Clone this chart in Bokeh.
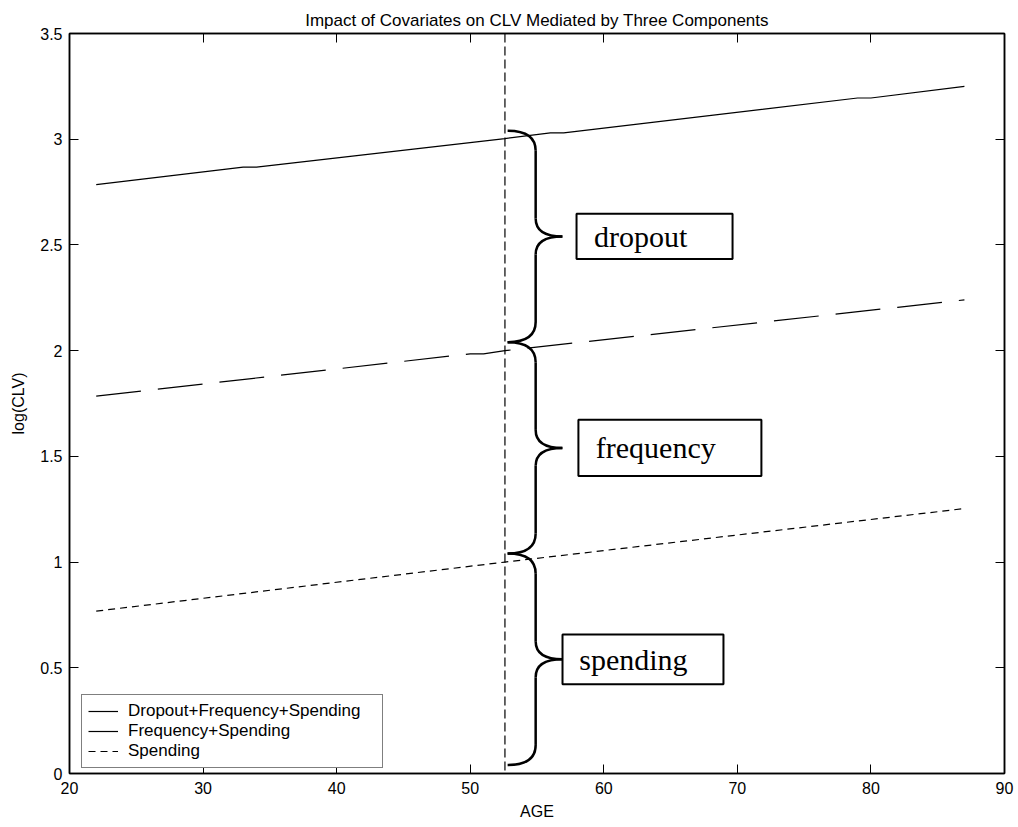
from bokeh.plotting import figure
from bokeh.models import (LinearAxis, FixedTicker, CustomJSTickFormatter, Span,
                          Legend, LegendItem, Range1d, ColumnDataSource)
from bokeh.core.properties import value
from bokeh.embed import file_html
from bokeh.resources import INLINE

# log(CLV) by age for each decomposition
age_all = [22, 33, 34, 52.6, 56, 57, 79, 80, 87]
clv_all = [2.785, 2.868, 2.868, 3.003, 3.03, 3.03, 3.195, 3.195, 3.25]
age_freq = [22, 50, 51, 52.6, 82, 87]
clv_freq = [1.785, 1.985, 1.985, 2.0, 2.205, 2.24]
age_spend = [22, 52.6, 87]
clv_spend = [0.768, 1.0, 1.253]
series_names = ["Dropout+Frequency+Spending", "Frequency+Spending", "Spending"]

# average age and the component contributions at that age
mean_age = 52.6
component_names = ["dropout", "frequency", "spending"]
component_top = [3.0, 2.0, 1.0]
component_bottom = [2.0, 1.0, 0.0]

x_ticks = [20, 30, 40, 50, 60, 70, 80, 90]
y_ticks = [0, 0.5, 1, 1.5, 2, 2.5, 3, 3.5]

AX_FONT = "Liberation Sans"

p = figure(width=1018, height=827, x_range=Range1d(20, 90), y_range=Range1d(0, 3.5),
           output_backend="svg", toolbar_location=None,
           min_border_left=69, min_border_right=14, min_border_top=33, min_border_bottom=54,
           title="Impact of Covariates on CLV Mediated by Three Components")
p.title.text_font = AX_FONT
p.title.text_font_size = "17px"
p.title.text_font_style = "normal"
p.title.text_color = "black"
p.title.align = "center"
p.title.standoff = 8
p.xgrid.visible = False
p.ygrid.visible = False
p.outline_line_color = "black"
p.outline_line_width = 1.5
p.background_fill_color = "white"
p.border_fill_color = "white"


def style_axis(ax, ticks, labels=True):
    ax.ticker = FixedTicker(ticks=ticks)
    ax.major_tick_in = 9
    ax.major_tick_out = 0
    ax.minor_tick_line_color = None
    ax.axis_line_color = "black"
    ax.axis_line_width = 1.5
    ax.major_tick_line_color = "black"
    ax.major_tick_line_width = 1
    ax.major_label_text_font = AX_FONT
    ax.major_label_text_font_size = "16px"
    ax.major_label_text_color = "black"
    ax.axis_label_text_font = AX_FONT
    ax.axis_label_text_font_size = "16px"
    ax.axis_label_text_font_style = "normal"
    ax.axis_label_text_color = "black"
    if labels:
        ax.formatter = CustomJSTickFormatter(code="return tick.toString();")
    else:
        ax.formatter = CustomJSTickFormatter(code="return '';")
        ax.major_label_standoff = 0


xa = p.xaxis[0]
ya = p.yaxis[0]
style_axis(xa, x_ticks)
style_axis(ya, y_ticks)
xa.axis_label = "AGE"
ya.axis_label = "log(CLV)"
xa.major_label_standoff = 8
xa.axis_label_standoff = 6
ya.major_label_standoff = 7
ya.axis_label_standoff = 10

top_axis = LinearAxis()
style_axis(top_axis, x_ticks, labels=False)
p.add_layout(top_axis, "above")
right_axis = LinearAxis()
style_axis(right_axis, y_ticks, labels=False)
p.add_layout(right_axis, "right")

# curves
r_all = p.line(age_all, clv_all, line_color="black", line_width=1.2)
r_freq = p.line(age_freq, clv_freq, line_color="black", line_width=1.2, line_dash="45 17")
r_spend = p.line(age_spend, clv_spend, line_color="black", line_width=1.2, line_dash="7 5")

# mean age marker
p.add_layout(Span(location=mean_age, dimension="height", line_color="black",
                  line_width=1.2, line_dash="9 4"))

# curly braces for each component
x_end = mean_age + 0.2
x_spine = x_end + 2.1
x_tip = x_spine + 2.0
lift = 0.04
d_end = 0.095
d_tip = 0.085
bz = dict(x0=[], y0=[], x1=[], y1=[], cx=[], cy=[])
seg = dict(x0=[], y0=[], x1=[], y1=[])
tips = []
for top, bot in zip(component_top, component_bottom):
    hi, lo = top + lift, bot + lift
    mid = (hi + lo) / 2
    tips.append(mid)
    curves = [
        (x_end, hi, x_spine, hi - d_end, x_spine, hi),
        (x_spine, mid + d_tip, x_tip, mid, x_spine, mid),
        (x_tip, mid, x_spine, mid - d_tip, x_spine, mid),
        (x_spine, lo + d_end, x_end, lo, x_spine, lo),
    ]
    for a, b, c, d, e, f in curves:
        bz["x0"].append(a); bz["y0"].append(b)
        bz["x1"].append(c); bz["y1"].append(d)
        bz["cx"].append(e); bz["cy"].append(f)
    for a, b in [(hi - d_end, mid + d_tip), (mid - d_tip, lo + d_end)]:
        seg["x0"].append(x_spine); seg["y0"].append(a)
        seg["x1"].append(x_spine); seg["y1"].append(b)

p.quadratic(x0="x0", y0="y0", x1="x1", y1="y1", cx="cx", cy="cy",
            source=ColumnDataSource(bz), line_color="black", line_width=2.5)
p.segment(x0="x0", y0="y0", x1="x1", y1="y1", source=ColumnDataSource(seg),
          line_color="black", line_width=2.5)

# label boxes next to each brace
box_left = [57.96, 58.1, 56.91]
box_right = [69.64, 71.8, 68.96]
box_half = [0.107, 0.133, 0.118]
text_pad = [1.3, 1.3, 1.25]
p.quad(left=box_left, right=box_right,
       bottom=[t - h for t, h in zip(tips, box_half)],
       top=[t + h for t, h in zip(tips, box_half)],
       fill_color="white", line_color="black", line_width=2)
p.text(x=[l + pd for l, pd in zip(box_left, text_pad)], y=tips, text=component_names,
       text_font=value("Liberation Serif"), text_font_size="30px",
       text_baseline="middle", text_align="left", text_color="black")

legend = Legend(items=[LegendItem(label=series_names[0], renderers=[r_all]),
                       LegendItem(label=series_names[1], renderers=[r_freq]),
                       LegendItem(label=series_names[2], renderers=[r_spend])],
                location=(12, 5), orientation="vertical",
                label_text_font=AX_FONT, label_text_font_size="17px",
                label_text_color="black", label_width=248,
                glyph_width=30, glyph_height=16, label_height=16,
                spacing=0, padding=6, margin=0, label_standoff=10,
                border_line_color="black", border_line_width=1.2,
                background_fill_color="white", background_fill_alpha=1)
p.add_layout(legend, "center")

open("out.html", "w").write(file_html(p, INLINE))
